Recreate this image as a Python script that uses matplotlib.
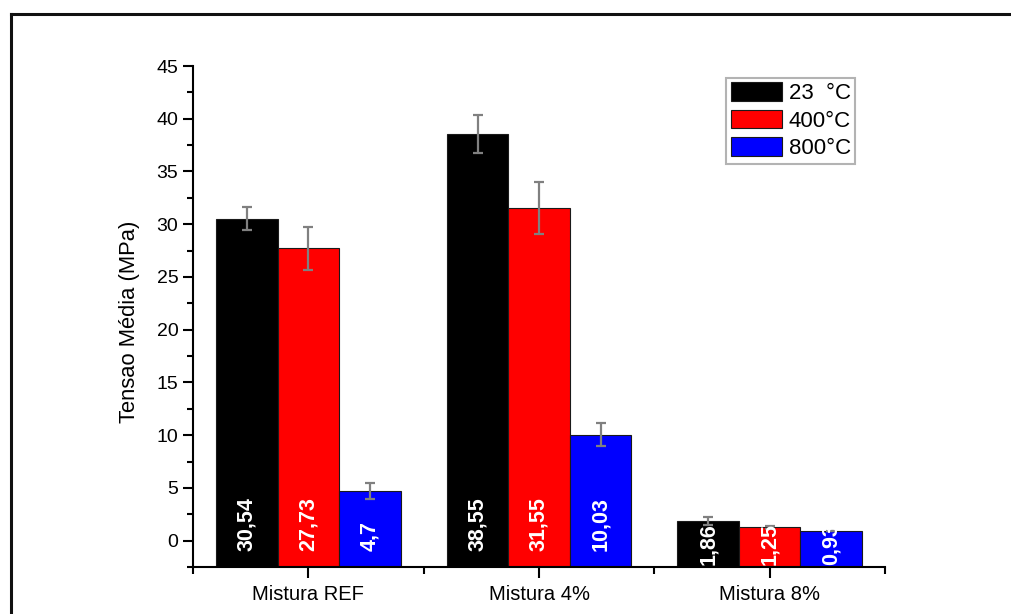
import matplotlib
matplotlib.use("Agg")
import matplotlib.pyplot as plt
import numpy as np
from matplotlib.lines import Line2D
from matplotlib.ticker import MultipleLocator, FixedLocator

plt.rcParams['font.family'] = ['Liberation Sans', 'DejaVu Sans']

categories = ["Mistura REF", "Mistura 4%", "Mistura 8%"]
series_labels = ["23  °C", "400°C", "800°C"]
series_colors = ["#000000", "#ff0000", "#0000ff"]

t23 = [30.54, 38.55, 1.86]
t400 = [27.73, 31.55, 1.25]
t800 = [4.7, 10.03, 0.93]

err23 = [1.1, 1.8, 0.38]
err400 = [2.05, 2.45, 0.13]
err800 = [0.72, 1.09, 0.0]

values = [t23, t400, t800]
errors = [err23, err400, err800]

fig = plt.figure(figsize=(10.11, 6.14), dpi=100)
ax = fig.add_axes([0.1909, 0.0765, 0.6845, 0.816])

ymin, ymax = -2.5, 45
x = np.arange(1, len(categories) + 1)
width = 0.8 / 3

for i, (vals, errs, col, lab) in enumerate(zip(values, errors, series_colors, series_labels)):
    pos = x + (i - 1) * width
    heights = np.array(vals) - ymin
    ax.bar(pos, heights, width=width, bottom=ymin, color=col,
           edgecolor="#1a1a1a", linewidth=0.8, label=lab, zorder=2)
    ax.errorbar(pos, vals, yerr=errs, fmt="none", ecolor="#808080",
                elinewidth=1.6, capsize=3.8, capthick=1.6, zorder=3)
    for p, v in zip(pos, vals):
        txt = f"{v:g}".replace(".", ",")
        base = -1.0 if v > 3 else -2.3
        ax.text(p, base, txt, rotation=90, ha="center", va="bottom",
                color="white", fontweight="bold", fontsize=15.5, zorder=4)

ax.set_xlim(0.5, 3.5)
ax.set_ylim(ymin, ymax)

ax.spines["top"].set_visible(False)
ax.spines["right"].set_visible(False)
for s in ("left", "bottom"):
    ax.spines[s].set_linewidth(1.5)

ax.yaxis.set_major_locator(FixedLocator(np.arange(0, 46, 5)))
ax.yaxis.set_minor_locator(MultipleLocator(2.5))
ax.set_xticks(x)
ax.set_xticklabels(categories, fontsize=14.5)
ax.xaxis.set_minor_locator(FixedLocator([0.5, 1.5, 2.5, 3.5]))

ax.tick_params(axis="y", which="major", direction="out", length=7, width=1.5, labelsize=14)
ax.tick_params(axis="y", which="minor", direction="out", length=4, width=1.5)
ax.tick_params(axis="x", which="major", direction="out", length=8, width=1.5, pad=5)
ax.tick_params(axis="x", which="minor", direction="out", length=5, width=1.5)

ax.set_ylabel("Tensao Média (MPa)", fontsize=15.8)
ax.yaxis.set_label_coords(-0.077, 0.49)

leg = ax.legend(loc="upper right", bbox_to_anchor=(0.957, 0.976), fontsize=16,
                frameon=True, fancybox=False, edgecolor="#a0a0a0",
                handlelength=2.3, handleheight=0.9, handletextpad=0.3,
                labelspacing=0.25, borderpad=0.2, borderaxespad=0.0)
leg.get_frame().set_linewidth(1.5)

# outer frame lines (top and left)
fig.add_artist(Line2D([11 / 1011, 1.0], [1 - 14 / 614, 1 - 14 / 614],
                      transform=fig.transFigure, color="#111111", linewidth=2.2))
fig.add_artist(Line2D([11 / 1011, 11 / 1011], [0.0, 1 - 14 / 614],
                      transform=fig.transFigure, color="#111111", linewidth=2.2))

fig.savefig("out.png", dpi=100)
